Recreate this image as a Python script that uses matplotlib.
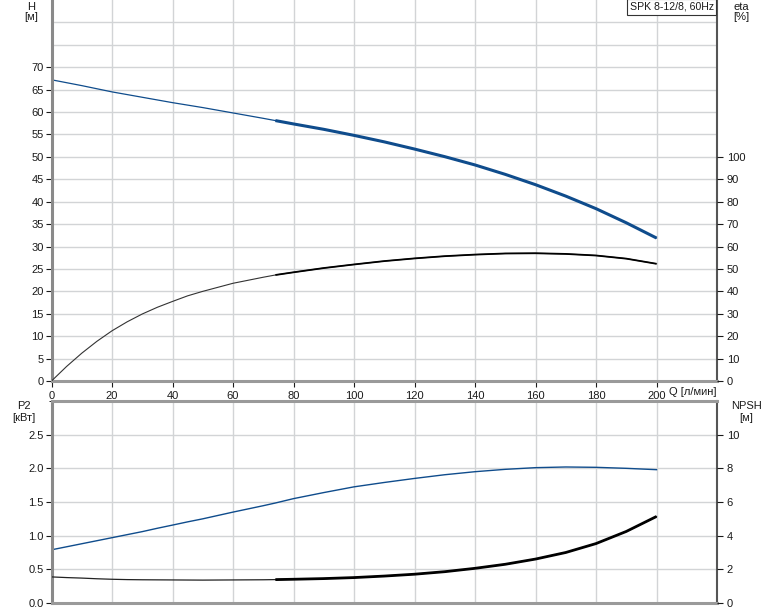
import matplotlib
matplotlib.use("Agg")
import matplotlib.pyplot as plt
import numpy as np

plt.rcParams['font.family'] = ['Liberation Sans', 'DejaVu Sans']

# ---- data ----
Q = [0, 5, 10, 15, 20, 25, 30, 35, 40, 45, 50, 60, 70, 74, 80, 90, 100, 110, 120, 130,
     140, 150, 160, 170, 180, 190, 200]
H = [67.2, 66.55, 65.9, 65.2, 64.5, 63.9, 63.3, 62.7, 62.1, 61.55, 61.0, 59.8, 58.6, 58.1,
     57.35, 56.15, 54.8, 53.35, 51.75, 50.05, 48.2, 46.1, 43.8, 41.25, 38.45, 35.3, 31.9]
ETA = [0, 6.5, 12.4, 17.7, 22.4, 26.4, 29.9, 32.9, 35.5, 38.0, 40.0, 43.6, 46.3, 47.3,
       48.5, 50.4, 52.0, 53.5, 54.7, 55.7, 56.4, 56.9, 57.0, 56.7, 56.0, 54.6, 52.3]
P2 = [0.79, 0.835, 0.88, 0.925, 0.97, 1.015, 1.06, 1.11, 1.157, 1.205, 1.25, 1.35, 1.445, 1.485,
      1.55, 1.64, 1.725, 1.79, 1.85, 1.905, 1.95, 1.985, 2.01, 2.02, 2.015, 2.0, 1.98]
NPSH = [1.55, 1.51, 1.48, 1.44, 1.41, 1.39, 1.38, 1.375, 1.37, 1.365, 1.36, 1.37, 1.38, 1.39,
        1.41, 1.45, 1.51, 1.60, 1.71, 1.86, 2.06, 2.30, 2.61, 3.00, 3.53, 4.25, 5.14]
Q_DUTY_START = 74

x_ticks = [0, 20, 40, 60, 80, 100, 120, 140, 160, 180, 200]
h_ticks = [0, 5, 10, 15, 20, 25, 30, 35, 40, 45, 50, 55, 60, 65, 70]
eta_ticks = [0, 10, 20, 30, 40, 50, 60, 70, 80, 90, 100]
p2_ticks = [0.0, 0.5, 1.0, 1.5, 2.0, 2.5]
npsh_ticks = [0, 2, 4, 6, 8, 10]
title_box = "SPK 8-12/8, 60Hz"

Q = np.array(Q); H = np.array(H); ETA = np.array(ETA); P2 = np.array(P2); NPSH = np.array(NPSH)
duty = Q >= Q_DUTY_START

BLUE = '#0f4c8c'
GRID = '#d2d4d6'
TXT = '#1a1a1a'
FS = 8

fig = plt.figure(figsize=(7.74, 6.11), dpi=100)
L = 51.5 / 774
R = 717 / 774
W = R - L
ax1 = fig.add_axes([L, 1 - 381 / 611, W, 381 / 611])
ax2 = fig.add_axes([L, 1 - 603 / 611, W, (603 - 401) / 611])

def style(ax, top_visible):
    ax.set_xlim(0, 220)
    ax.set_xticks(x_ticks)
    ax.grid(True, color=GRID, lw=1.0)
    ax.set_axisbelow(True)
    ax.spines['left'].set_color('#8a8a8a')
    ax.spines['left'].set_linewidth(2.2)
    ax.spines['bottom'].set_color('#9a9a9a')
    ax.spines['bottom'].set_linewidth(2.2)
    ax.spines['right'].set_color('#555555')
    ax.spines['right'].set_linewidth(1.5)
    ax.spines['top'].set_color('#9a9a9a')
    ax.spines['top'].set_linewidth(2.2)
    ax.spines['top'].set_visible(top_visible)
    ax.tick_params(axis='both', labelsize=FS, colors=TXT, length=4, width=0.8)
    ax.tick_params(axis='y', pad=1.5)

# ---- top panel ----
style(ax1, False)
ax1.set_ylim(0, 85)
ax1.set_yticks(h_ticks)
ax1.set_yticks([75, 80], minor=True)
ax1.grid(True, which='minor', axis='y', color=GRID, lw=1.0)
ax1.tick_params(axis='y', which='minor', length=0)
ax1.set_xticklabels([str(v) for v in x_ticks])
ax1.plot(Q, H, color=BLUE, lw=0.9)
ax1.plot(Q[duty], H[duty], color=BLUE, lw=2.2, solid_capstyle='butt')

ax1b = ax1.twinx()
ax1b.set_ylim(0, 170)
ax1b.set_yticks(eta_ticks)
ax1b.tick_params(axis='y', labelsize=FS, colors=TXT, length=4, width=0.8, pad=3)
for s in ax1b.spines.values():
    s.set_visible(False)
ax1b.plot(Q, ETA, color='#333333', lw=0.8)
ax1b.plot(Q[duty], ETA[duty], color='black', lw=1.3, solid_capstyle='butt')

fig.text(31 / 774, 1 - 1.5 / 611, "H", fontsize=FS, color=TXT, ha='center', va='top')
fig.text(31 / 774, 1 - 12.5 / 611, "[м]", fontsize=FS, color=TXT, ha='center', va='top')
fig.text(741 / 774, 1 - 1.5 / 611, "eta", fontsize=FS, color=TXT, ha='center', va='top')
fig.text(741 / 774, 1 - 12.5 / 611, "[%]", fontsize=FS, color=TXT, ha='center', va='top')
fig.text(669 / 774, 1 - 392 / 611, "Q [л/мин]", fontsize=FS, color=TXT, ha='left', va='center')
ax1.text(0.995, 0.995, title_box, transform=ax1.transAxes, fontsize=7.6, color=TXT,
         ha='right', va='top',
         bbox=dict(boxstyle='square,pad=0.25', fc='white', ec='#333333', lw=0.8))

# ---- bottom panel ----
style(ax2, True)
ax2.set_ylim(0, 3.0)
ax2.set_yticks(p2_ticks)
ax2.set_yticklabels([f"{v:.1f}" for v in p2_ticks])
ax2.set_yticks([3.0], minor=True)
ax2.tick_params(axis='x', labelbottom=False, length=0)
ax2.plot(Q, P2, color=BLUE, lw=1.0)

ax2b = ax2.twinx()
ax2b.set_ylim(0, 12)
ax2b.set_yticks(npsh_ticks)
ax2b.tick_params(axis='y', labelsize=FS, colors=TXT, length=4, width=0.8, pad=3)
for s in ax2b.spines.values():
    s.set_visible(False)
ax2b.plot(Q, NPSH, color='#222222', lw=0.9)
ax2b.plot(Q[duty], NPSH[duty], color='black', lw=2.0, solid_capstyle='butt')

fig.text(24 / 774, 1 - 406 / 611, "P2", fontsize=FS, color=TXT, ha='center', va='center')
fig.text(24 / 774, 1 - 418 / 611, "[кВт]", fontsize=FS, color=TXT, ha='center', va='center')
fig.text(746 / 774, 1 - 406 / 611, "NPSH", fontsize=FS, color=TXT, ha='center', va='center')
fig.text(746 / 774, 1 - 418 / 611, "[м]", fontsize=FS, color=TXT, ha='center', va='center')

fig.savefig("out.png", dpi=100, facecolor='white')
